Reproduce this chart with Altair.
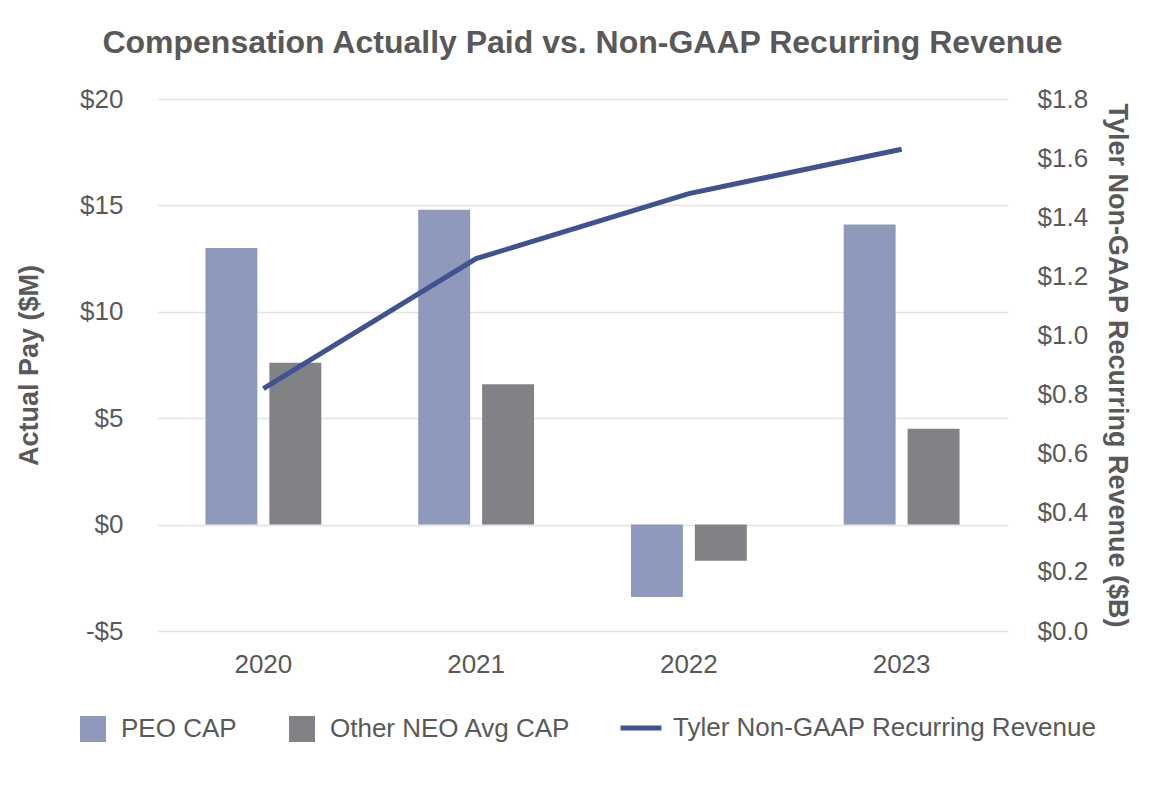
import altair as alt
import pandas as pd

years = ["2020", "2021", "2022", "2023"]
peo_cap = [13.0, 14.8, -3.4, 14.1]
other_cap = [7.6, 6.6, -1.7, 4.5]
revenue = [0.82, 1.26, 1.48, 1.63]
series = ["PEO CAP", "Other NEO Avg CAP"]
line_name = "Tyler Non-GAAP Recurring Revenue"
left_ticks = [-5, 0, 5, 10, 15, 20]
right_ticks = [round(i * 0.2, 1) for i in range(10)]

bars_df = pd.DataFrame({
    "Year": years * 2,
    "Series": [series[0]] * len(years) + [series[1]] * len(years),
    "Value": peo_cap + other_cap,
})
line_df = pd.DataFrame({"Year": years, "Revenue": revenue, "Series": [line_name] * len(years)})

FONT = "Liberation Sans"
TXT = "#595959"

x_enc = alt.X(
    "Year:N", sort=years,
    scale=alt.Scale(paddingInner=0, paddingOuter=0),
    axis=alt.Axis(title=None, labelAngle=0, labelPadding=20, labelFontSize=26,
                  labelColor=TXT, labelFont=FONT, ticks=False, domain=False, grid=False),
)

bars = alt.Chart(bars_df).mark_bar().encode(
    x=x_enc,
    xOffset=alt.XOffset("Series:N", sort=series,
                        scale=alt.Scale(paddingInner=0.1875, paddingOuter=0.758)),
    y=alt.Y("Value:Q", scale=alt.Scale(domain=[-5, 20], nice=False),
            axis=alt.Axis(values=left_ticks,
                          labelExpr="datum.value < 0 ? '-$' + abs(datum.value) : '$' + datum.value",
                          title="Actual Pay ($M)", grid=True, gridColor="#e3e3e3", gridWidth=1.5,
                          ticks=False, domain=False, labelPadding=34, labelFontSize=26,
                          labelColor=TXT, labelFont=FONT, titleFontSize=27, titleFont=FONT,
                          titleColor=TXT, titleFontWeight="bold", titlePadding=36)),
    fill=alt.Fill("Series:N", sort=series,
                  scale=alt.Scale(domain=series, range=["#8e99bc", "#818285"]),
                  legend=alt.Legend(title=None, orient="none", direction="horizontal",
                                    legendX=-77, legendY=617, symbolType="square",
                                    symbolSize=676, symbolStrokeWidth=0, labelOffset=15,
                                    columnPadding=52, labelFontSize=26, labelColor=TXT,
                                    labelFont=FONT, labelLimit=800)),
)

line = alt.Chart(line_df).mark_line(strokeWidth=5).encode(
    x=alt.X("Year:N", sort=years),
    y=alt.Y("Revenue:Q", scale=alt.Scale(domain=[0, 1.8], nice=False),
            axis=alt.Axis(orient="right", values=right_ticks, format="$.1f",
                          title="Tyler Non-GAAP Recurring Revenue ($B)", grid=False,
                          ticks=False, domain=False, labelPadding=29, labelFontSize=26,
                          labelColor=TXT, labelFont=FONT, titleFontSize=27, titleFont=FONT,
                          titleColor=TXT, titleFontWeight="bold", titlePadding=15)),
    stroke=alt.Stroke("Series:N", scale=alt.Scale(domain=[line_name], range=["#3f5292"]),
                      legend=alt.Legend(title=None, orient="none", direction="horizontal",
                                        legendX=461, legendY=606, symbolType="stroke",
                                        symbolSize=1681, symbolStrokeWidth=5, labelOffset=9,
                                        labelFontSize=26, labelColor=TXT, labelFont=FONT,
                                        labelLimit=800)),
)

chart = alt.layer(bars, line).resolve_scale(y="independent").properties(
    width=851, height=532,
    title=alt.TitleParams("Compensation Actually Paid vs. Non-GAAP Recurring Revenue",
                          anchor="middle", frame="group", baseline="alphabetic", offset=1,
                          fontSize=32, font=FONT, fontWeight="bold", color=TXT),
    autosize=alt.AutoSizeParams(type="none"),
    padding={"left": 149, "top": 91, "right": 154, "bottom": 147},
).configure(background="white").configure_view(stroke=None)

chart.save("out.html", embed_options={"renderer": "svg", "actions": False})
